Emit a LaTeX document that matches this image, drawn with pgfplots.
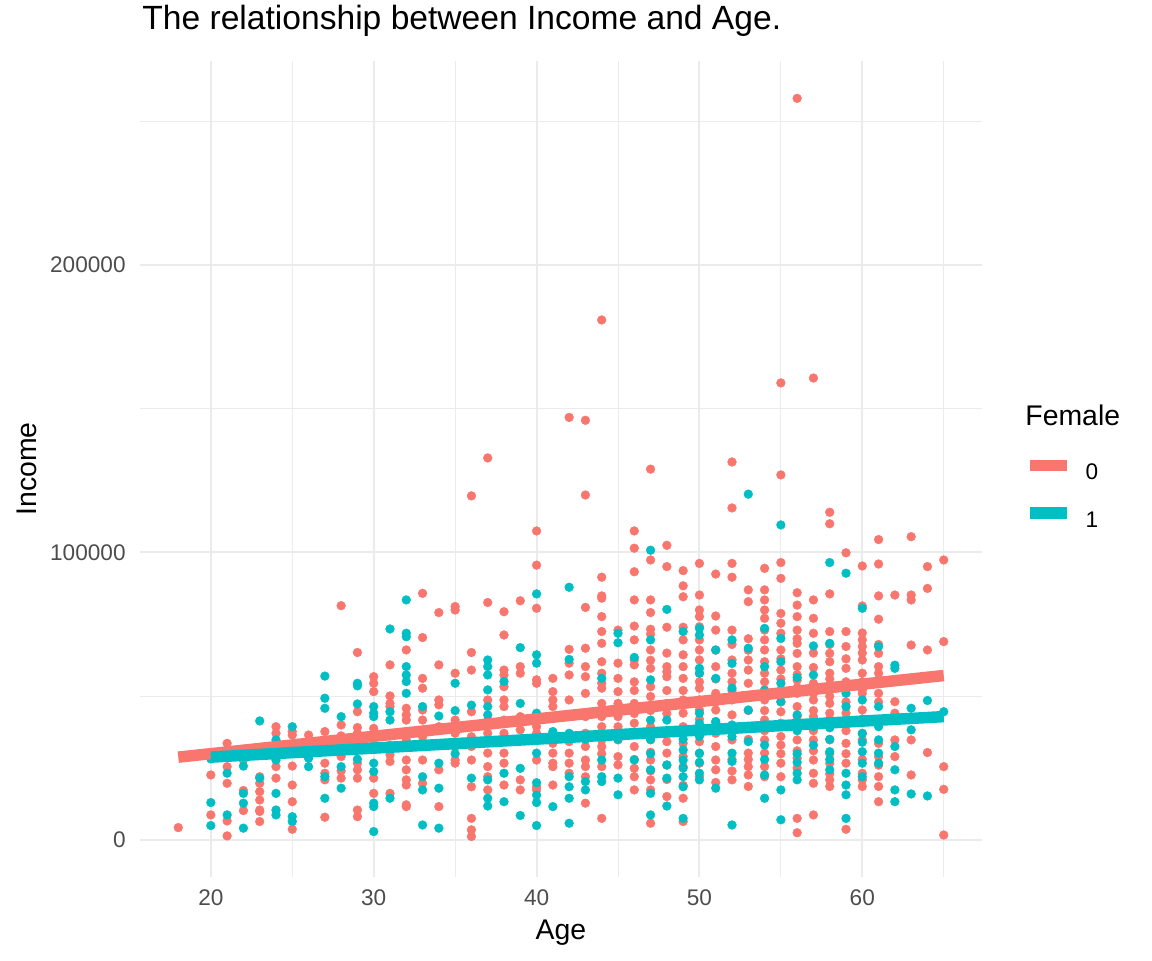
\documentclass[border=0pt]{standalone}
\usepackage{fontspec}
\setmainfont{Liberation Sans}
\usepackage{pgfplots}
\pgfplotsset{compat=1.18}
\definecolor{cred}{HTML}{F8766D}
\definecolor{cteal}{HTML}{00BFC4}
\definecolor{gridc}{HTML}{EBEBEB}
\definecolor{tickc}{HTML}{4D4D4D}
\begin{document}
\begin{tikzpicture}
\useasboundingbox (0,0) rectangle (576pt,480pt);
\begin{axis}[
  at={(70pt,41.5pt)}, anchor=south west,
  scale only axis, width=421pt, height=408pt,
  xmin=15.65, xmax=67.35, ymin=-12900, ymax=271000,
  clip mode=individual,
  axis line style={draw=none},
  major tick length=0pt, minor tick length=0pt,
  xtick={20,30,40,50,60}, minor xtick={25,35,45,55,65},
  ytick={0,100000,200000}, minor ytick={50000,150000,250000},
  grid=both,
  major grid style={gridc, line width=1pt},
  minor grid style={gridc, line width=0.5pt},
  scaled y ticks=false,
  /pgf/number format/assume math mode=true,
  /pgf/number format/fixed,
  /pgf/number format/1000 sep={},
  tick label style={font=\fontsize{11.3}{13}\selectfont, text=tickc},
  xticklabel style={anchor=north, inner sep=0pt, yshift=-6pt},
  yticklabel style={anchor=east, inner sep=0pt, xshift=-7pt},
  title={The relationship between Income and Age.},
  title style={at={(axis description cs:0.0024,1.0237)}, anchor=base west, inner sep=0pt, font=\fontsize{16.8}{20}\selectfont},
  xlabel={Age},
  xlabel style={at={(axis description cs:0.5,-0.0527)}, anchor=north, inner sep=0pt, font=\fontsize{14.2}{16}\selectfont},
  ylabel={Income},
  ylabel style={at={(axis description cs:-0.1461,0.5)}, anchor=north, rotate=0, inner sep=0pt, font=\fontsize{14.2}{16}\selectfont},
  legend style={draw=none, fill=none, at={(axis description cs:1.0499,0.4682)}, anchor=west,
    inner sep=0pt, outer sep=0pt, row sep=12.1pt, column sep=6.5pt,
    font=\fontsize{11.3}{13}\selectfont, nodes={inner sep=0pt}},
  legend cell align=left,
  legend image code/.code={\draw[#1, line width=5.75pt] (0pt,4.05pt) -- (18.5pt,4.05pt);},
  pts/.style={only marks, mark=*, mark size=2.2pt, line width=0.2pt},
]
% Female = 0
\addplot[pts, color=cred, forget plot] coordinates {
(18,4300)
(20,8700)(20,22600)
(21,33600)(21,25500)(21,19700)(21,6600)(21,1400)
(22,27800)(22,17200)(22,10200)
(23,22000)(23,19700)(23,16800)(23,13900)(23,10400)(23,9900)(23,6400)
(24,39400)(24,37100)(24,25500)(24,21500)
(25,37700)(25,36500)(25,25700)(25,19100)(25,13300)(25,3700)
(26,36500)(26,34200)(26,29000)
(27,37700)(27,34800)(27,26700)(27,23200)(27,20900)(27,7900)
(28,81500)(28,40000)(28,36200)(28,29000)(28,24000)(28,21500)
(29,65200)(29,44600)(29,39100)(29,37100)(29,26700)(29,24400)(29,21500)(29,10400)(29,8100)
(30,56800)(30,54500)(30,51600)(30,38800)(30,35900)(30,33000)(30,21500)(30,16200)
(31,60900)(31,50100)(31,47500)(31,46400)(31,36500)(31,33000)(31,29600)(31,27300)(31,16200)
(32,66100)(32,45800)(32,43500)(32,41700)(32,34800)(32,27800)(32,24400)(32,20900)(32,19100)(32,12200)(32,11600)
(33,85800)(33,70400)(33,56200)(33,52800)(33,45200)(33,41700)(33,35900)(33,32500)(33,27800)(33,19700)
(34,79100)(34,60900)(34,48700)(34,47000)(34,39400)(34,24400)(34,11600)
(35,81200)(35,80000)(35,58000)(35,41700)(35,39400)(35,37100)(35,32500)(35,27800)(35,26700)
(36,119700)(36,65200)(36,59100)(36,44600)(36,39400)(36,35900)(36,32500)(36,27800)(36,18500)(36,7500)(36,3500)(36,1200)
(37,132900)(37,82600)(37,48700)(37,41700)(37,37100)(37,30200)(37,25500)(37,22000)(37,17400)
(38,79400)(38,71300)(38,59100)(38,57400)(38,53300)(38,48700)(38,46400)(38,41700)(38,37100)(38,30200)(38,26700)(38,19100)
(39,83200)(39,60300)(39,58000)(39,42900)(39,38300)(39,20900)(39,17400)
(40,107500)(40,95600)(40,80600)(40,55700)(40,54500)(40,39400)(40,37100)(40,27800)(40,18500)(40,17400)
(41,56200)(41,51600)(41,48700)(41,46400)(41,42900)(41,33600)(41,30200)(41,26700)(41,25500)(41,19100)
(42,147000)(42,66300)(42,61500)(42,57400)(42,48700)(42,42900)(42,34200)(42,30200)(42,26700)(42,23200)
(43,146000)(43,120000)(43,80900)(43,66700)(43,60300)(43,56800)(43,51000)(43,42900)(43,37100)(43,32500)(43,27800)(43,25500)(43,22000)(43,12800)
(44,180900)(44,91400)(44,84900)(44,84100)(44,77700)(44,72500)(44,68400)(44,54500)(44,52800)(44,47500)(44,42900)(44,39400)(44,34800)(44,32500)(44,25500)(44,7500)
(44,62000)(44,58000)(44,45000)(44,30000)
(45,73000)(45,61500)(45,56200)(45,51600)(45,47500)(45,42900)(45,39400)(45,34800)(45,29000)(45,26100)
(46,107500)(46,101500)(46,93300)(46,83500)(46,74400)(46,69600)(46,62600)(46,60900)(46,47500)(46,40600)(46,37100)(46,32500)(46,24900)(46,22000)(46,17400)
(46,55000)(46,52000)(46,44000)(46,28000)
(47,129000)(47,97400)(47,83500)(47,79100)(47,73300)(47,71600)(47,66100)(47,59700)(47,53300)(47,49900)(47,39400)(47,34800)(47,27800)(47,20900)(47,17400)(47,5800)
(47,62500)(47,45000)(47,30500)(47,24000)
(48,102500)(48,95100)(48,74000)(48,60300)(48,58500)(48,56800)(48,47500)(48,34200)(48,30200)(48,15100)
(48,65000)(48,52000)(48,44000)(48,38000)(48,26000)(48,21000)
(49,93700)(49,88400)(49,84600)(49,69600)(49,64400)(49,60300)(49,56200)(49,48700)(49,44100)(49,39400)(49,33600)(49,25500)(49,14500)(49,6400)
(49,74000)(49,52000)(49,29000)(49,19000)
(50,96200)(50,85200)(50,80000)(50,77700)(50,74200)(50,69600)(50,66100)(50,62600)(50,52800)(50,48700)(50,45200)(50,39400)(50,34200)(50,26700)
(50,58000)(50,55000)(50,42000)(50,30000)(50,22000)
(51,92500)(51,77900)(51,73000)(51,60300)(51,51000)(51,45200)(51,37100)(51,32500)(51,27800)(51,24400)
(51,66000)(51,56000)(51,48000)(51,41000)(51,20000)
(52,131500)(52,115500)(52,96200)(52,91400)(52,73000)(52,62600)(52,58000)(52,48700)(52,43500)(52,39400)(52,34800)(52,20900)
(52,68000)(52,55000)(52,52000)(52,28000)(52,24000)
(53,87000)(53,82900)(53,62600)(53,59100)(53,54500)(53,49900)(53,39400)(53,30200)(53,25500)(53,22600)(53,18600)
(53,70000)(53,66000)(53,45000)(53,35000)(53,28000)
(54,94500)(54,87000)(54,83500)(54,80000)(54,77100)(54,69600)(54,66100)(54,58000)(54,52200)(54,48700)(54,41700)(54,34800)(54,30200)(54,25500)
(54,73000)(54,62000)(54,55000)(54,45000)(54,38000)(54,22000)
(55,159000)(55,127000)(55,96500)(55,91000)(55,78800)(55,75400)(55,71900)(55,66100)(55,59100)(55,44600)(55,40600)(55,36000)(55,33000)(55,26700)(55,22000)
(55,63000)(55,56000)(55,52000)(55,48000)(55,30000)
(56,258000)(56,81700)(56,77700)(56,73000)(56,68400)(56,64900)(56,60300)(56,55600)(56,51000)(56,46400)(56,39400)(56,34800)(56,28400)(56,7500)(56,2500)
(56,86000)(56,70000)(56,57500)(56,53000)(56,43000)(56,31000)(56,25000)
(57,160700)(57,83500)(57,77100)(57,71900)(57,54500)(57,48700)(57,42900)(57,34800)(57,27800)(57,23200)(57,19700)(57,8700)
(57,65000)(57,60000)(57,51000)(57,45000)(57,38000)(57,31000)
(58,114000)(58,110000)(58,85600)(58,72500)(58,64900)(58,62000)(58,58000)(58,53300)(58,47500)(58,44100)(58,39400)(58,34800)(58,26700)(58,20900)(58,18600)
(58,68000)(58,56000)(58,50000)(58,42000)(58,30000)(58,23000)
(59,99900)(59,72500)(59,67300)(59,59700)(59,44100)(59,33600)(59,26700)(59,3700)
(59,63000)(59,55000)(59,48000)(59,38000)(59,30000)
(60,95300)(60,81400)(60,69600)(60,67300)(60,62600)(60,58000)(60,52200)(60,51000)(60,45200)(60,37100)(60,34800)(60,23200)(60,20900)(60,18600)
(60,72000)(60,65000)(60,55000)(60,41000)(60,28000)
(61,104500)(61,96000)(61,84900)(61,76800)(61,64900)(61,60300)(61,55600)(61,51000)(61,33600)(61,22000)(61,18600)(61,13300)
(61,68000)(61,58000)(61,48000)(61,29000)(61,26000)
(62,85200)(62,48100)(62,44100)(62,34800)(62,29000)
(63,105500)(63,85200)(63,83500)(63,67800)(63,34800)(63,22600)
(64,95100)(64,87500)(64,66100)(64,30400)
(65,97400)(65,69000)(65,25500)(65,17600)(65,1700)
};
% Female = 1
\addplot[pts, color=cteal, forget plot] coordinates {
(20,13000)(20,5000)(20,28200)
(21,23200)(21,8700)
(22,25700)(22,16200)(22,12800)(22,4100)
(23,41400)(23,21500)
(24,34800)(24,27800)(24,16200)(24,10400)(24,8700)
(25,39400)(25,8100)(25,6400)
(26,28400)(26,25500)
(27,57000)(27,49300)(27,45800)(27,22000)(27,14500)
(28,42900)(28,25500)(28,18000)
(29,54500)(29,53600)(29,47300)(29,28100)
(30,46400)(30,44100)(30,42900)(30,26700)(30,23800)(30,12800)(30,11600)(30,2900)
(31,73400)(31,44600)(31,41700)(31,14500)
(32,83500)(32,71900)(32,70700)(32,60300)(32,57400)(32,55100)(32,51000)
(33,46400)(33,22000)(33,17400)(33,5200)
(34,43100)(34,26700)(34,18000)(34,4100)
(35,54500)(35,45000)(35,30000)
(36,46900)(36,21500)
(37,62600)(37,60300)(37,57400)(37,52200)(37,46400)(37,43500)(37,20900)(37,14500)(37,11800)
(38,55100)(38,23200)(38,13300)
(39,66900)(39,47500)(39,24900)(39,8500)
(40,85600)(40,64400)(40,61500)(40,44100)(40,30200)(40,19900)(40,15600)(40,13000)(40,5000)
(41,37700)(41,11600)
(42,87900)(42,62800)(42,37100)(42,22000)(42,18500)(42,14500)(42,5800)
(43,35000)(43,20300)(43,17400)
(44,56200)(44,27800)(44,22000)(44,20300)
(45,71900)(45,68600)(45,35000)(45,21500)(45,15700)
(46,63500)(46,27800)
(47,100800)(47,69600)(47,55700)(47,41700)(47,24400)(47,16200)(47,8700)(47,35000)(47,30000)
(48,80200)(48,41700)(48,26100)(48,21500)(48,11800)
(49,72500)(49,31300)(49,27800)(49,22000)(49,18500)(49,7500)(49,35000)(49,25000)
(50,73600)(50,71300)(50,59700)(50,58000)(50,44100)(50,40600)(50,30200)(50,23200)(50,20900)(50,36000)(50,27000)
(51,66100)(51,56200)(51,41200)(51,18000)
(52,69600)(52,61400)(52,52800)(52,30200)(52,27300)(52,5200)(52,40000)(52,36000)
(53,120300)(53,66700)(53,45200)(53,34200)
(54,73600)(54,60300)(54,22600)(54,14500)(54,40000)(54,33000)(54,28000)(54,52000)
(55,109600)(55,70100)(55,62000)(55,54500)(55,48100)(55,17400)(55,7000)
(56,56500)(56,43500)(56,23200)(56,20900)(56,38000)(56,30000)(56,27000)
(57,67500)(57,57400)(57,39400)(57,33000)
(58,96500)(58,68400)(58,30700)(58,24400)(58,39000)(58,35000)(58,28000)
(59,92800)(59,51000)(59,46400)(59,23200)(59,19100)(59,15700)(59,7500)
(60,80600)(60,48700)(60,30700)(60,26700)(60,42000)(60,37000)(60,34000)(60,22000)
(61,67300)(61,46400)(61,39400)(61,34800)(61,30200)(61,26700)
(62,60800)(62,59700)(62,32500)(62,24400)(62,17400)(62,13300)
(63,45800)(63,38300)(63,16000)
(64,48500)(64,15300)
(65,44600)
};
\addplot[cred, line width=5.75pt] coordinates {(18,28800)(65,57200)};
\addlegendentry{0}
\addplot[cteal, line width=5.75pt] coordinates {(20,28800)(65,42900)};
\addlegendentry{1}
\node[anchor=base west, inner sep=0pt, font=\fontsize{14.2}{16}\selectfont] at (axis description cs:1.0511,0.5539) {Female};
\end{axis}
\end{tikzpicture}
\end{document}
